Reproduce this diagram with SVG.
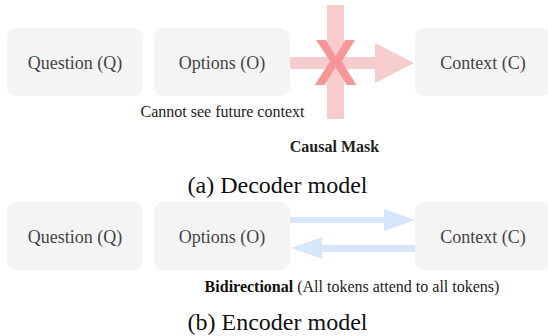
<svg xmlns="http://www.w3.org/2000/svg" width="548" height="336" viewBox="0 0 548 336">
<style>
.box{fill:#f4f4f4}
.lbl{font-family:"Liberation Serif",serif;font-size:18px;fill:#444;text-anchor:middle}
.note{font-family:"Liberation Serif",serif;font-size:16px;fill:#222}
.cap{font-family:"Liberation Serif",serif;font-size:24px;fill:#111;text-anchor:middle}
.red{fill:#f6cccc}
.blue{fill:#d7e6fa}
</style>
<rect width="548" height="336" fill="#fff"/>
<g id="connectors">
  <g id="causal">
    <rect class="red" x="290" y="57" width="86" height="12"/>
    <polygon class="red" points="375,43 414,63 375,83"/>
    <rect class="red" x="327" y="5" width="17" height="114"/>
    <text x="335.5" y="85" font-family="Liberation Sans,Arial,sans-serif" font-weight="bold" font-size="64" fill="#f79696" text-anchor="middle">X</text>
  </g>
  <g id="bidir">
    <rect class="blue" x="290" y="217" width="95" height="6"/>
    <polygon class="blue" points="384,209 415,220 384,231"/>
    <rect class="blue" x="321" y="245" width="95" height="7"/>
    <polygon class="blue" points="322,237 291,248 322,259"/>
  </g>
</g>
<g id="dec-q"><rect class="box" x="7" y="28" width="136" height="68" rx="9"/><text class="lbl" x="75" y="68.5">Question (Q)</text></g>
<g id="dec-o"><rect class="box" x="154" y="28" width="136" height="68" rx="9"/><text class="lbl" x="222" y="68.5">Options (O)</text></g>
<g id="dec-c"><rect class="box" x="415" y="28" width="136" height="68" rx="9"/><text class="lbl" x="483" y="68.5">Context (C)</text></g>
<text class="note" x="140.5" y="117">Cannot see future context</text>
<text class="note" x="334.5" y="152" font-weight="bold" fill="#111" text-anchor="middle">Causal Mask</text>
<text class="cap" x="277.5" y="193">(a) Decoder model</text>
<g id="enc-q"><rect class="box" x="7" y="202" width="136" height="68" rx="9"/><text class="lbl" x="75" y="242.5">Question (Q)</text></g>
<g id="enc-o"><rect class="box" x="154" y="202" width="136" height="68" rx="9"/><text class="lbl" x="222" y="242.5">Options (O)</text></g>
<g id="enc-c"><rect class="box" x="415" y="202" width="136" height="68" rx="9"/><text class="lbl" x="483" y="242.5">Context (C)</text></g>
<text class="note" x="352" y="292" text-anchor="middle"><tspan font-weight="bold" fill="#111">Bidirectional</tspan> (All tokens attend to all tokens)</text>
<text class="cap" x="277.5" y="330">(b) Encoder model</text>
</svg>
